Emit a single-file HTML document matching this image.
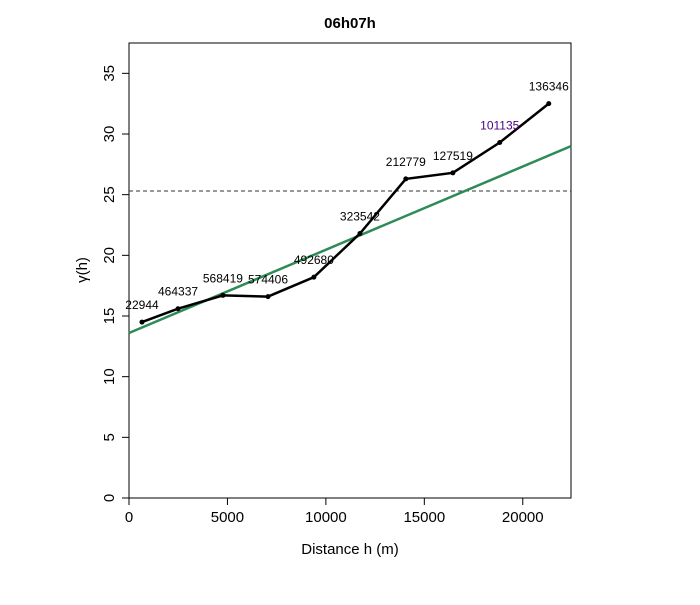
<!DOCTYPE html>
<html><head><meta charset="utf-8"><style>body{margin:0;background:#fff}svg{font-family:"Liberation Sans",Arial,sans-serif}</style></head>
<body>
<svg id="c" width="700" height="600" xmlns="http://www.w3.org/2000/svg"></svg>
<script>
const dist=[660,2490,4770,7060,9390,11730,14060,16450,18830,21320];
const gamma=[14.5,15.6,16.7,16.6,18.2,21.8,26.3,26.8,29.3,32.5];
const npairs=["22944","464337","568419","574406","492680","323542","212779","127519","101135","136346"];
const xTicks=[0,5000,10000,15000,20000];
const yTicks=[0,5,10,15,20,25,30,35];
const sill=25.3;
const fitIntercept=13.6, fitEnd=29.0;
const X0=129,X1=571,Y0=498,Y1=43,xmax=22450,ymax=37.5;
const sx=v=>X0+(X1-X0)*v/xmax, sy=v=>Y0-(Y0-Y1)*v/ymax;
const svg=document.getElementById('c');const NS='http://www.w3.org/2000/svg';
function mk(t,a,txt){const e=document.createElementNS(NS,t);for(const k in a)e.setAttribute(k,a[k]);if(txt!==undefined)e.textContent=txt;svg.appendChild(e);return e;}
let e=mk('rect',{x:X0,y:Y1,width:X1-X0,height:Y0-Y1,fill:'none',stroke:'#000'});


e=mk('text',{x:350,y:28,'text-anchor':'middle','font-size':15,'font-weight':'bold'},'06h07h');


xTicks.forEach(v=>{e=mk('line',{x1:sx(v),x2:sx(v),y1:Y0,y2:Y0+7,stroke:'#000'});


e=mk('text',{x:sx(v),y:Y0+24,'text-anchor':'middle','font-size':15},String(v));

});
yTicks.forEach(v=>{e=mk('line',{x1:X0-7,x2:X0,y1:sy(v),y2:sy(v),stroke:'#000'});


e=mk('text',{x:0,y:0,'text-anchor':'middle','font-size':15,transform:`translate(${X0-15},${sy(v)}) rotate(-90)`},String(v));

});
e=mk('text',{x:350,y:554,'text-anchor':'middle','font-size':15},'Distance h (m)');


e=mk('text',{x:0,y:0,'text-anchor':'middle','font-size':15,transform:`translate(87,270) rotate(-90)`},'γ(h)');


e=mk('line',{x1:X0,x2:X1,y1:sy(sill),y2:sy(sill),stroke:'#333','stroke-dasharray':'4,3'});


e=mk('line',{x1:X0,x2:X1,y1:sy(fitIntercept),y2:sy(fitEnd),stroke:'#2e8b57','stroke-width':2.5});


e=mk('polyline',{points:dist.map((d,i)=>sx(d)+','+sy(gamma[i])).join(' '),fill:'none',stroke:'#000','stroke-width':2.5});


dist.forEach((d,i)=>{e=mk('circle',{cx:sx(d),cy:sy(gamma[i]),r:2.5,fill:'#000'});


e=mk('text',{x:sx(d),y:sy(gamma[i])-13,'text-anchor':'middle','font-size':12,fill:i==8?'#4b0082':'#000'},npairs[i]);

});
</script>
</body></html>
